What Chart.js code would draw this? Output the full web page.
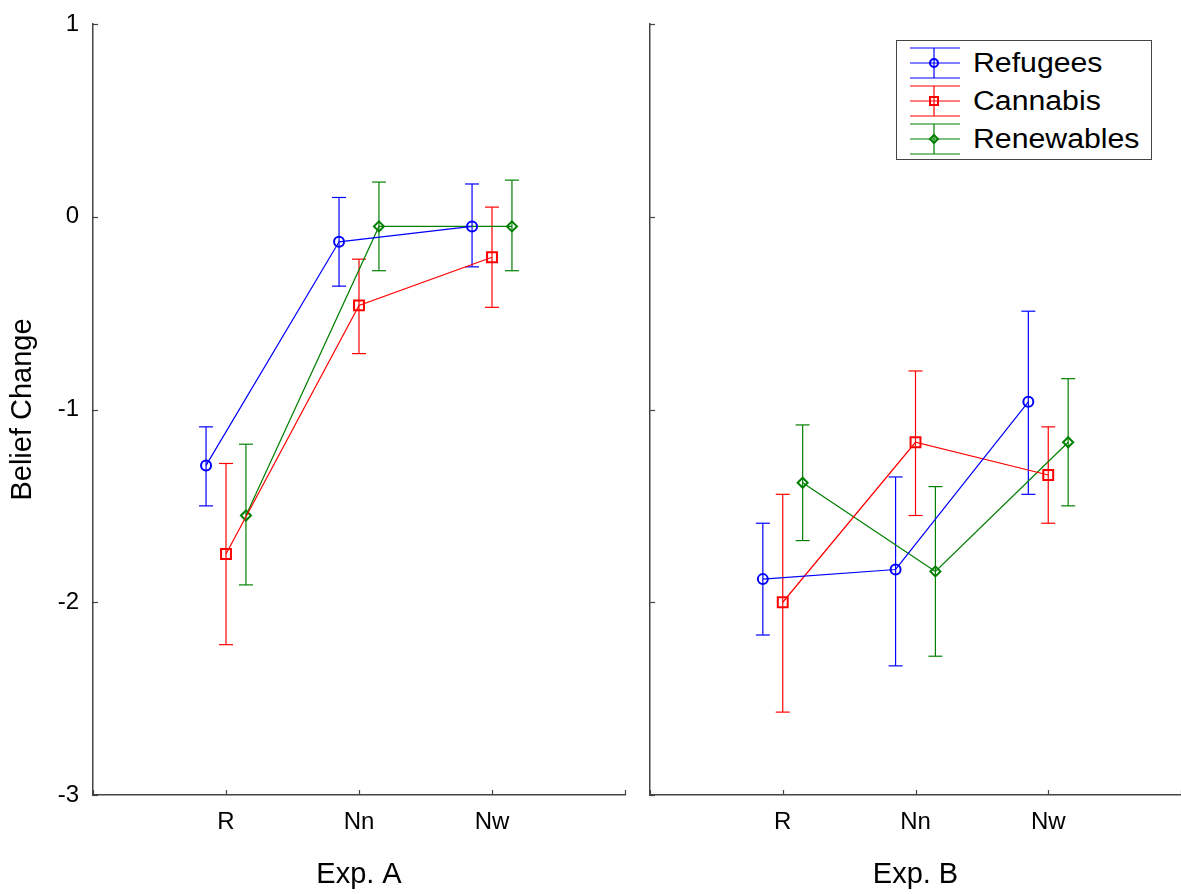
<!DOCTYPE html>
<html><head><meta charset="utf-8">
<script src="https://cdn.jsdelivr.net/npm/chart.js@4.4.0/dist/chart.umd.min.js"></script>
<style>
html,body{margin:0;padding:0;background:#fff;width:1181px;height:894px;overflow:hidden;}
#wrapA{position:absolute;left:0;top:0;width:637px;height:894px;}
#wrapB{position:absolute;left:637px;top:0;width:544px;height:894px;}
#legend{position:absolute;left:896px;top:40px;width:254px;height:118px;border:1.5px solid #444;background:#fff;font-family:'Liberation Sans',Arial,sans-serif;color:#000;}
.row{position:absolute;left:0;height:34px;width:254px;}
.row svg{position:absolute;left:12px;top:0;}
.row span{position:absolute;left:76px;top:0;font-size:27px;line-height:34px;transform:scaleX(1.12);transform-origin:left center;white-space:nowrap;}
</style></head>
<body>
<div id="wrapA"><canvas id="cA" width="637" height="894"></canvas></div>
<div id="wrapB"><canvas id="cB" width="544" height="894"></canvas></div>
<div id="legend"></div>
<script>
// ---- data ----
const categories = ['R', 'Nn', 'Nw'];
const yTicks = [1, 0, -1, -2, -3];
const yTickLabels = ['1', '0', '-1', '-2', '-3'];
const seriesNames = ['Refugees', 'Cannabis', 'Renewables'];
const panelTitles = ['Exp. A', 'Exp. B'];

// Exp. A
const refugeesA = [-1.29, -0.13, -0.05];
const refugeesA_lo = [-1.50, -0.36, -0.26];
const refugeesA_hi = [-1.09, 0.10, 0.17];
const cannabisA = [-1.75, -0.46, -0.21];
const cannabisA_lo = [-2.22, -0.71, -0.47];
const cannabisA_hi = [-1.28, -0.22, 0.05];
const renewablesA = [-1.55, -0.05, -0.05];
const renewablesA_lo = [-1.91, -0.28, -0.28];
const renewablesA_hi = [-1.18, 0.18, 0.19];

// Exp. B
const refugeesB = [-1.88, -1.83, -0.96];
const refugeesB_lo = [-2.17, -2.33, -1.44];
const refugeesB_hi = [-1.59, -1.35, -0.49];
const cannabisB = [-2.00, -1.17, -1.34];
const cannabisB_lo = [-2.57, -1.55, -1.59];
const cannabisB_hi = [-1.44, -0.80, -1.09];
const renewablesB = [-1.38, -1.84, -1.17];
const renewablesB_lo = [-1.68, -2.28, -1.50];
const renewablesB_hi = [-1.08, -1.40, -0.84];

// ---- styles ----
const colors = ['#0000ff', '#ff0000', '#008000'];
const pointStyles = ['circle', 'rect', 'rectRot'];
const pointRadii = [5, 7, 5];
const offsets = [-0.15, 0, 0.15];
const FONT = "'Liberation Sans', Arial, sans-serif";
const AXIS = '#444';

const inwardTicks = {
  id: 'inwardTicks',
  afterDraw(chart) {
    const ctx = chart.ctx, a = chart.chartArea;
    ctx.save();
    ctx.strokeStyle = AXIS; ctx.lineWidth = 1.2;
    const ys = chart.scales.y;
    ys.ticks.forEach(t => {
      const p = Math.round(ys.getPixelForValue(t.value)) + 0.5;
      ctx.beginPath(); ctx.moveTo(a.left, p); ctx.lineTo(a.left + 5, p); ctx.stroke();
    });
    const xs = chart.scales.x;
    xs.ticks.forEach(t => {
      const p = Math.round(xs.getPixelForValue(t.value)) + 0.5;
      ctx.beginPath(); ctx.moveTo(p, a.bottom); ctx.lineTo(p, a.bottom - 5); ctx.stroke();
    });
    ctx.restore();
  }
};

function makeChart(id, means, los, his, title, isLeft) {
  const datasets = [];
  means.forEach((m, s) => {
    datasets.push({
      type: 'line',
      label: seriesNames[s],
      data: m.map((v, i) => ({x: i + 1 + offsets[s], y: v})),
      borderColor: colors[s],
      backgroundColor: 'rgba(0,0,0,0)',
      borderWidth: 1.2,
      pointStyle: pointStyles[s],
      pointRadius: pointRadii[s],
      pointBorderWidth: 2,
      pointBorderColor: colors[s],
      pointBackgroundColor: 'rgba(0,0,0,0)',
      order: 0
    });
    m.forEach((v, i) => {
      datasets.push({
        type: 'line',
        label: seriesNames[s] + ' err',
        data: [{x: i + 1 + offsets[s], y: los[s][i]}, {x: i + 1 + offsets[s], y: his[s][i]}],
        borderColor: colors[s],
        borderWidth: 1.2,
        pointStyle: 'line',
        pointRadius: 7,
        pointBorderWidth: 1.2,
        pointBorderColor: colors[s],
        order: 1
      });
    });
  });
  return new Chart(document.getElementById(id), {
    type: 'line',
    data: {datasets},
    plugins: [inwardTicks],
    options: {
      responsive: false,
      animation: false,
      events: [],
      layout: {autoPadding: false, padding: {top: 24, right: isLeft ? 12 : 0, left: 0, bottom: 0}},
      plugins: {legend: {display: false}, tooltip: {enabled: false}},
      scales: {
        x: {
          type: 'linear', min: 0, max: 4,
          grid: {display: false, drawTicks: false},
          border: {display: true, color: AXIS, width: 1.5},
          ticks: {
            stepSize: 1, autoSkip: false, maxRotation: 0, padding: 13,
            color: '#000', font: {family: FONT, size: 24},
            callback: v => (v >= 1 && v <= 3 && Number.isInteger(v)) ? categories[v - 1] : ''
          },
          title: {display: true, text: title, color: '#000', font: {family: FONT, size: 29}, padding: {top: 0, bottom: 2}},
          afterFit: sc => { sc.height = 99; sc.paddingLeft = 0; sc.paddingRight = 0; }
        },
        y: {
          type: 'linear', min: -3, max: 1,
          grid: {display: false, drawTicks: false},
          border: {display: true, color: AXIS, width: 1.5},
          ticks: {
            display: isLeft, stepSize: 1, padding: 14,
            color: '#000', font: {family: FONT, size: 24},
            callback: v => { const k = yTicks.indexOf(v); return k >= 0 ? yTickLabels[k] : ''; }
          },
          title: {display: isLeft, text: 'Belief Change', color: '#000', font: {family: FONT, size: 29}, padding: {top: 6, bottom: 0}},
          afterFit: sc => { sc.width = isLeft ? 93 : 13; sc.paddingTop = 0; sc.paddingBottom = 0; }
        }
      }
    }
  });
}

makeChart('cA', [refugeesA, cannabisA, renewablesA],
  [refugeesA_lo, cannabisA_lo, renewablesA_lo],
  [refugeesA_hi, cannabisA_hi, renewablesA_hi], panelTitles[0], true);
makeChart('cB', [refugeesB, cannabisB, renewablesB],
  [refugeesB_lo, cannabisB_lo, renewablesB_lo],
  [refugeesB_hi, cannabisB_hi, renewablesB_hi], panelTitles[1], false);

// ---- legend ----
const lg = document.getElementById('legend');
const markerSvg = [
  c => `<circle cx="25" cy="17" r="4" fill="none" stroke="${c}" stroke-width="2"/>`,
  c => `<rect x="21" y="13" width="8" height="8" fill="none" stroke="${c}" stroke-width="2"/>`,
  c => `<polygon points="25,13 29,17 25,21 21,17" fill="none" stroke="${c}" stroke-width="2"/>`
];
seriesNames.forEach((n, s) => {
  const row = document.createElement('div');
  row.className = 'row';
  row.style.top = (5 + s * 38) + 'px';
  const c = colors[s];
  row.innerHTML = `<svg width="52" height="34" viewBox="0 0 52 34">
    <line x1="1" y1="2" x2="51" y2="2" stroke="${c}" stroke-width="1.2"/>
    <line x1="1" y1="17" x2="51" y2="17" stroke="${c}" stroke-width="1.2"/>
    <line x1="1" y1="32" x2="51" y2="32" stroke="${c}" stroke-width="1.2"/>
    <line x1="25" y1="2" x2="25" y2="32" stroke="${c}" stroke-width="1.2"/>
    ${markerSvg[s](c)}</svg><span>${n}</span>`;
  lg.appendChild(row);
});
</script>
</body></html>
